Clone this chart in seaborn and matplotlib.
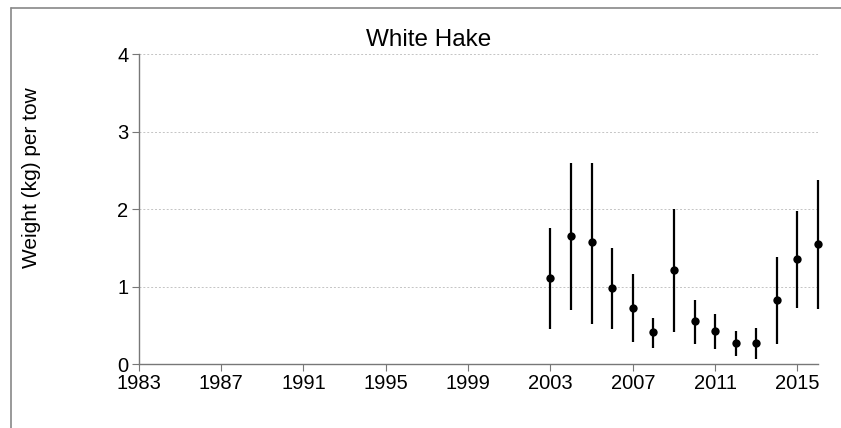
import matplotlib
matplotlib.use("Agg")
import matplotlib.pyplot as plt
from matplotlib.lines import Line2D
import seaborn as sns
import pandas as pd

# Survey index: mean weight per tow with lower/upper bounds
years = [2003, 2004, 2005, 2006, 2007, 2008, 2009, 2010, 2011, 2012, 2013, 2014, 2015, 2016]
mean_wt = [1.11, 1.65, 1.57, 0.98, 0.72, 0.41, 1.21, 0.55, 0.43, 0.27, 0.27, 0.82, 1.35, 1.55]
lower = [0.45, 0.70, 0.52, 0.45, 0.29, 0.21, 0.41, 0.26, 0.20, 0.10, 0.065, 0.26, 0.72, 0.71]
upper = [1.75, 2.60, 2.60, 1.50, 1.16, 0.60, 2.00, 0.83, 0.65, 0.43, 0.46, 1.38, 1.98, 2.37]
xticks = [1983, 1987, 1991, 1995, 1999, 2003, 2007, 2011, 2015]
yticks = [0, 1, 2, 3, 4]

df = pd.DataFrame({"year": years, "mean": mean_wt, "lo": lower, "hi": upper})

sns.set_theme(style="white")
plt.rcParams["font.family"] = ["Liberation Sans", "DejaVu Sans"]

fig = plt.figure(figsize=(8.41, 4.28), dpi=100)
ax = fig.add_axes([0.165, 0.1495, 0.8077, 0.7243])

ax.vlines(df["year"], df["lo"], df["hi"], color="black", linewidth=1.6,
          zorder=2, clip_on=False)
sns.scatterplot(data=df, x="year", y="mean", ax=ax, color="black", s=36,
                edgecolor="black", linewidth=0, zorder=3, clip_on=False)

ax.set_xlim(1983, 2016)
ax.set_ylim(0, 4)
ax.set_xticks(xticks)
ax.set_yticks(yticks)
ax.tick_params(axis="both", labelsize=14.5, labelcolor="black", color="#777777",
               length=5, width=0.8, direction="out", bottom=True, left=True)
ax.tick_params(axis="x", pad=2.5)
ax.tick_params(axis="y", pad=2.5)

ax.grid(axis="y", color="#c4c4c4", linestyle=(0, (2, 2)), linewidth=0.7)
ax.set_axisbelow(True)
for side in ("top", "right"):
    ax.spines[side].set_visible(False)
for side in ("left", "bottom"):
    ax.spines[side].set_color("#777777")
    ax.spines[side].set_linewidth(1.0)

ax.set_xlabel("")
ax.set_ylabel("")
fig.text(31.7 / 841, (428 - 177.5) / 428, "Weight (kg) per tow", rotation=90,
         ha="center", va="center", fontsize=15, color="black")

fig.text(429 / 841, (428 - 46) / 428, "White Hake", ha="center", va="baseline",
         fontsize=17.5, color="black")

# Outer frame of the panel (top and left edges)
frame_x = 10.5 / 841
frame_y = (428 - 7.5) / 428
fig.add_artist(Line2D([frame_x, 1.0], [frame_y, frame_y], transform=fig.transFigure,
                      color="#888888", linewidth=1.2))
fig.add_artist(Line2D([frame_x, frame_x], [0.0, frame_y], transform=fig.transFigure,
                      color="#888888", linewidth=1.2))

fig.savefig("out.png", dpi=100)
